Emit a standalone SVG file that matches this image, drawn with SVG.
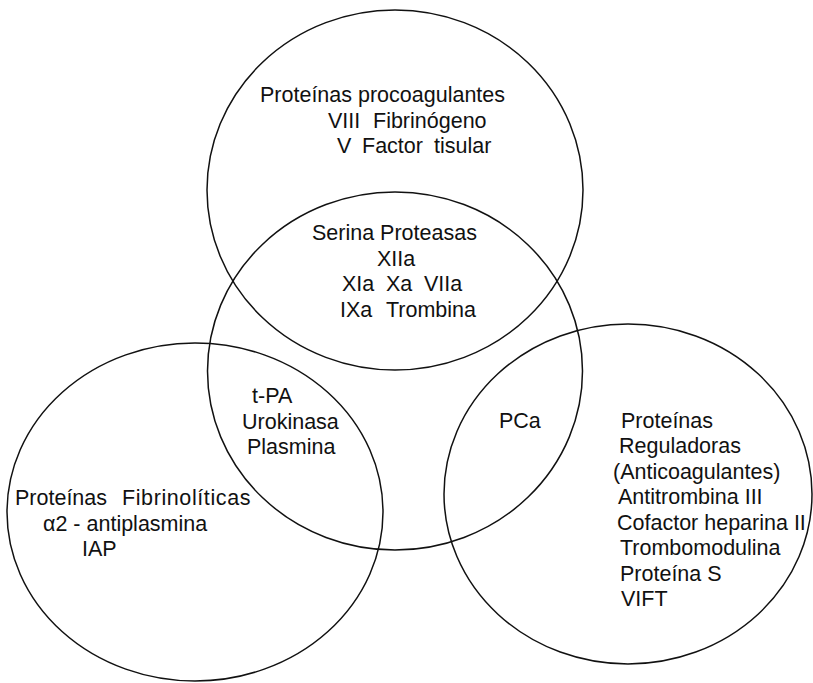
<svg xmlns="http://www.w3.org/2000/svg" width="813" height="683" viewBox="0 0 813 683">
  <style>
    .set { fill: none; stroke: #111; stroke-width: 1.5; }
    .lbl { font-family: "Liberation Sans", Arial, Helvetica, sans-serif; font-size: 21.5px; fill: #111; }
  </style>
  <rect x="0" y="0" width="813" height="683" fill="#fff"/>

  <!-- Procoagulant proteins -->
  <g id="procoagulantes">
    <ellipse class="set" cx="395" cy="190" rx="188" ry="180"/>
    <text class="lbl" x="260" y="102">Proteínas procoagulantes</text>
    <text class="lbl" y="128"><tspan x="328">VIII</tspan><tspan x="373">Fibrinógeno</tspan></text>
    <text class="lbl" y="153"><tspan x="337">V</tspan><tspan x="362">Factor</tspan><tspan x="434">tisular</tspan></text>
  </g>

  <!-- Serine proteases -->
  <g id="serina-proteasas">
    <ellipse class="set" cx="395" cy="371" rx="187.5" ry="179"/>
    <text class="lbl" x="312" y="240">Serina Proteasas</text>
    <text class="lbl" x="377" y="266">XIIa</text>
    <text class="lbl" y="291"><tspan x="342">XIa</tspan><tspan x="386">Xa</tspan><tspan x="424">VIIa</tspan></text>
    <text class="lbl" y="317"><tspan x="340">IXa</tspan><tspan x="386">Trombina</tspan></text>
  </g>

  <!-- Fibrinolytic proteins -->
  <g id="fibrinoliticas">
    <ellipse class="set" cx="195" cy="512" rx="188" ry="169"/>
    <text class="lbl" y="505"><tspan x="15">Proteínas</tspan><tspan x="122" letter-spacing="0.6">Fibrinolíticas</tspan></text>
    <text class="lbl" x="43" y="531">α2 - antiplasmina</text>
    <text class="lbl" x="82" y="556">IAP</text>
  </g>

  <!-- Regulatory (anticoagulant) proteins -->
  <g id="reguladoras">
    <ellipse class="set" cx="628" cy="494" rx="184" ry="170"/>
    <text class="lbl" x="621" y="428">Proteínas</text>
    <text class="lbl" x="619" y="453">Reguladoras</text>
    <text class="lbl" x="613" y="479">(Anticoagulantes)</text>
    <text class="lbl" x="618" y="504">Antitrombina III</text>
    <text class="lbl" x="617" y="530">Cofactor heparina II</text>
    <text class="lbl" x="620" y="555">Trombomodulina</text>
    <text class="lbl" x="620" y="581">Proteína S</text>
    <text class="lbl" x="621" y="606">VIFT</text>
  </g>

  <!-- Overlap: serine proteases / fibrinolytic -->
  <g id="activadores-plasminogeno">
    <text class="lbl" x="252" y="403">t-PA</text>
    <text class="lbl" x="242" y="429">Urokinasa</text>
    <text class="lbl" x="247" y="454">Plasmina</text>
  </g>

  <!-- Overlap: serine proteases / regulatory -->
  <g id="proteina-c-activada">
    <text class="lbl" x="499" y="428">PCa</text>
  </g>
</svg>
